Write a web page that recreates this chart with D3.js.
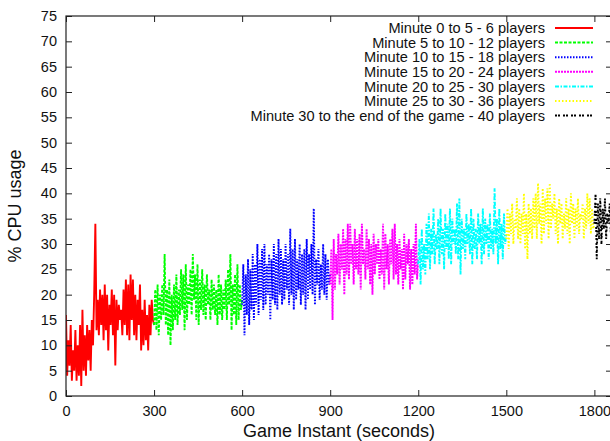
<!DOCTYPE html>
<html>
<head>
<meta charset="utf-8">
<script src="https://cdn.jsdelivr.net/npm/d3@7"></script>
<style>
  body { margin: 0; background: #fff; }
  text { font-family: "Liberation Sans", Arial, Helvetica, sans-serif; fill: #111; }
</style>
</head>
<body>
<svg id="chart" width="610" height="441"></svg>
<script>
// CPU usage samples, one every SAMPLE_STEP seconds, for each phase of the game
const SAMPLE_STEP = 4;

const xTicks = [0, 300, 600, 900, 1200, 1500, 1800];
const yTicks = [0, 5, 10, 15, 20, 25, 30, 35, 40, 45, 50, 55, 60, 65, 70, 75];

const seriesLabels = [
  "Minute 0 to 5 - 6 players",
  "Minute 5 to 10 - 12 players",
  "Minute 10 to 15 - 18 players",
  "Minute 15 to 20 - 24 players",
  "Minute 20 to 25 - 30 players",
  "Minute 25 to 30 - 36 players",
  "Minute 30 to the end of the game - 40 players"
];
const seriesStarts = [0, 300, 600, 900, 1200, 1500, 1800];
const seriesColors = ["#ff0000", "#00ff00", "#0000ff", "#ff00ff", "#00ffff", "#ffff00", "#000000"];
const seriesDashes = ["none", "3,1.5", "1.5,1.5", "2,1", "4,1.5,1.5,1.5", "1.5,2", "2,1,2,3"];

const cpu0to5 = [
  16, 4, 11, 6, 14, 3, 9, 5,
  13, 3, 10, 4, 14, 2, 17, 5,
  12, 4, 14, 7, 13, 5, 15, 10,
  20, 34, 13, 19, 12, 21, 14, 20,
  11, 22, 13, 20, 9, 18, 14, 21,
  12, 20, 6, 19, 13, 18, 15, 17,
  12, 21, 14, 23, 12, 22, 11, 24,
  15, 23, 12, 20, 11, 19, 14, 22,
  9, 17, 10, 19, 11, 16, 9, 18,
  12, 19, 15, 14
];
const cpu5to10 = [
  14, 21, 13, 22, 12, 20, 15, 22,
  16, 28, 14, 21, 12, 23, 10, 20,
  13, 22, 15, 24, 14, 21, 16, 25,
  17, 24, 13, 26, 15, 22, 18, 25,
  16, 28, 19, 24, 15, 26, 14, 23,
  17, 25, 16, 22, 15, 24, 18, 21,
  15, 23, 17, 22, 16, 21, 14, 24,
  16, 22, 15, 21, 17, 23, 15, 25,
  18, 28, 13, 22, 16, 24, 14, 26,
  15, 22, 17, 19
];
const cpu10to15 = [
  18, 26, 12, 24, 16, 27, 14, 25,
  17, 28, 15, 26, 18, 30, 16, 27,
  19, 29, 17, 30, 18, 26, 20, 28,
  15, 27, 19, 30, 18, 28, 17, 31,
  20, 29, 18, 27, 19, 30, 21, 28,
  18, 33, 20, 29, 17, 31, 19, 27,
  21, 30, 18, 28, 20, 29, 17, 31,
  19, 28, 21, 30, 20, 37, 18, 27,
  22, 29, 19, 26, 21, 30, 20, 28,
  19, 27, 22, 24
];
const cpu15to20 = [
  22, 29, 15, 31, 21, 28, 24, 32,
  22, 30, 25, 33, 20, 31, 24, 34,
  23, 34, 26, 30, 22, 33, 25, 31,
  24, 32, 21, 34, 26, 29, 23, 33,
  25, 31, 22, 30, 20, 32, 24, 30,
  26, 31, 23, 29, 24, 34, 21, 32,
  25, 30, 22, 31, 26, 33, 23, 34,
  24, 30, 22, 31, 25, 29, 21, 32,
  23, 30, 26, 31, 21, 29, 22, 30,
  24, 34, 23, 27
];
const cpu20to25 = [
  26, 31, 22, 33, 25, 30, 24, 34,
  27, 36, 25, 33, 28, 37, 26, 32,
  29, 35, 26, 37, 28, 33, 25, 36,
  29, 34, 27, 37, 26, 35, 30, 33,
  28, 38, 27, 39, 24, 35, 29, 33,
  27, 36, 30, 34, 28, 37, 26, 35,
  29, 33, 27, 36, 30, 34, 26, 37,
  28, 35, 30, 34, 27, 36, 29, 33,
  28, 41, 30, 35, 26, 37, 29, 34,
  27, 36, 30, 32
];
const cpu25to30 = [
  31, 37, 29, 36, 32, 38, 30, 35,
  33, 39, 31, 37, 30, 36, 32, 40,
  29, 36, 27, 38, 32, 37, 31, 39,
  33, 40, 31, 42, 34, 38, 30, 41,
  32, 39, 34, 41, 31, 42, 33, 38,
  35, 40, 32, 37, 30, 39, 34, 38,
  31, 36, 33, 39, 32, 37, 30, 40,
  34, 38, 31, 37, 33, 39, 32, 36,
  35, 38, 31, 37, 33, 40, 34, 39,
  32, 37, 33, 34
];
const cpu30toEnd = [
  34, 40, 27, 38, 31, 39, 30, 37, 33, 39, 31, 36, 34, 38, 32, 37
];

const seriesValues = [cpu0to5, cpu5to10, cpu10to15, cpu15to20, cpu20to25, cpu25to30, cpu30toEnd];

const svg = d3.select("#chart");
const plot = { left: 66, right: 612, top: 16, bottom: 396 };

const x = d3.scaleLinear().domain([0, 1860]).range([plot.left, plot.right]);
const y = d3.scaleLinear().domain([0, 75]).range([plot.bottom, plot.top]);

svg.append("defs").append("clipPath").attr("id", "plot-clip")
  .append("rect")
  .attr("x", plot.left).attr("y", plot.top)
  .attr("width", plot.right - plot.left).attr("height", plot.bottom - plot.top);

// data lines
const line = d3.line().x(d => x(d.t)).y(d => y(d.v));
const dataG = svg.append("g").attr("clip-path", "url(#plot-clip)");
seriesValues.forEach((vals, i) => {
  const pts = vals.map((v, k) => ({ t: seriesStarts[i] + k * SAMPLE_STEP, v }));
  dataG.append("path")
    .datum(pts)
    .attr("d", line)
    .attr("fill", "none")
    .attr("stroke", seriesColors[i])
    .attr("stroke-width", 1.9)
    .attr("stroke-linejoin", "miter")
    .attr("stroke-dasharray", seriesDashes[i]);
});

// axes with inward ticks on every side
function styleAxis(g) {
  g.select(".domain").remove();
  g.selectAll(".tick line").attr("stroke", "#222").attr("stroke-width", 1);
  g.selectAll(".tick text").style("font-size", "14.5px").attr("fill", "#111")
    .style("font-family", "'Liberation Sans', Arial, sans-serif");
}

svg.append("g").attr("transform", `translate(0,${plot.bottom})`)
  .call(d3.axisBottom(x).tickValues(xTicks).tickFormat(d3.format("d"))
    .tickSizeInner(-6).tickSizeOuter(0).tickPadding(10))
  .call(styleAxis);
svg.append("g").attr("transform", `translate(0,${plot.top})`)
  .call(d3.axisTop(x).tickValues(xTicks).tickSizeInner(-6).tickSizeOuter(0).tickFormat(""))
  .call(styleAxis);
svg.append("g").attr("transform", `translate(${plot.left},0)`)
  .call(d3.axisLeft(y).tickValues(yTicks).tickFormat(d3.format("d"))
    .tickSizeInner(-6).tickSizeOuter(0).tickPadding(9))
  .call(styleAxis);
svg.append("g").attr("transform", `translate(${plot.right},0)`)
  .call(d3.axisRight(y).tickValues(yTicks).tickSizeInner(-6).tickSizeOuter(0).tickFormat(""))
  .call(styleAxis);

// frame
svg.append("rect")
  .attr("x", plot.left).attr("y", plot.top)
  .attr("width", plot.right - plot.left).attr("height", plot.bottom - plot.top)
  .attr("fill", "none").attr("stroke", "#222").attr("stroke-width", 1.2);

// axis titles
svg.append("text")
  .attr("x", (plot.left + plot.right) / 2).attr("y", 437)
  .attr("text-anchor", "middle").style("font-size", "18px")
  .text("Game Instant (seconds)");
svg.append("text")
  .attr("transform", "translate(21,206) rotate(-90)")
  .attr("text-anchor", "middle").style("font-size", "18px")
  .text("% CPU usage");

// legend
const legend = svg.append("g");
seriesLabels.forEach((label, i) => {
  const ly = 28 + i * 14.6;
  legend.append("text")
    .attr("x", 545).attr("y", ly).attr("dy", "0.36em")
    .attr("text-anchor", "end").style("font-size", "14.6px")
    .text(label);
  legend.append("line")
    .attr("x1", 555).attr("x2", 593).attr("y1", ly).attr("y2", ly)
    .attr("stroke", seriesColors[i]).attr("stroke-width", 2)
    .attr("stroke-dasharray", seriesDashes[i]);
});
</script>
</body>
</html>
